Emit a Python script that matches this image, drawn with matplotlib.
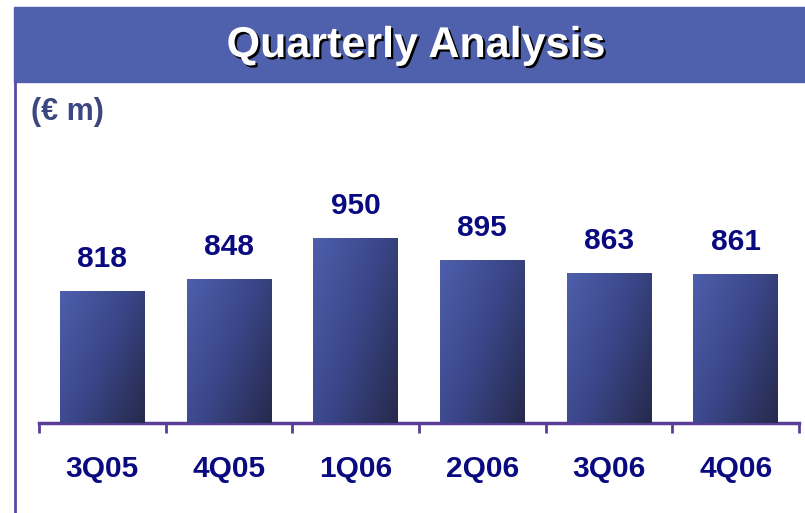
import numpy as np
import matplotlib
matplotlib.use("Agg")
import matplotlib.pyplot as plt
import matplotlib.patheffects as pe
from matplotlib.patches import Rectangle
from matplotlib.colors import LinearSegmentedColormap

quarters = ["3Q05", "4Q05", "1Q06", "2Q06", "3Q06", "4Q06"]
values = [818, 848, 950, 895, 863, 861]

navy = "#0a0a80"
purple = "#5a3d97"
banner = "#4f60ad"

plt.rcParams["font.family"] = ["Liberation Sans", "DejaVu Sans"]

fig = plt.figure(figsize=(8.05, 5.13), dpi=100)

# title banner + left border
fig.patches.append(Rectangle((14/805, 1-82/513), 1-14/805, 75/513,
                             transform=fig.transFigure, color=banner, zorder=0))
fig.lines.append(plt.Line2D([14.5/805, 14.5/805], [0, 1-82/513],
                            transform=fig.transFigure, color="#5a48a8", lw=2))
fig.text(0.516, 1-46/513, "Quarterly Analysis", ha="center", va="center",
         fontsize=31, fontweight="bold", color="white",
         path_effects=[pe.withSimplePatchShadow(offset=(1.6, -1.6), shadow_rgbFace="black", alpha=1)])
fig.text(31/805, 1-112/513, "(\u20ac m)", ha="left", va="center",
         fontsize=22, fontweight="bold", color="#3c4680")

ax = fig.add_axes([39/805, 1-423/513, 760/805, 283/513])
x = np.arange(len(quarters))
bars = ax.bar(x, values, width=0.67, color="#3e4c8e", zorder=2)
ax.set_xlim(-0.5, len(quarters) - 0.5)
ax.set_ylim(489, 1194)

# gradient fill, lighter top-left to dark bottom-right
cmap = LinearSegmentedColormap.from_list("g", ["#4d5eab", "#3a4688", "#262a4c"])
gx, gy = np.meshgrid(np.linspace(0, 1, 60), np.linspace(0, 1, 60))
grad = 0.6 * gx + 0.4 * gy
for b in bars:
    x0, y0 = b.get_x(), b.get_y()
    im = ax.imshow(grad, cmap=cmap, extent=[x0, x0 + b.get_width(), 489, y0 + b.get_height()],
                   origin="upper", aspect="auto", zorder=3)
    im.set_clip_path(b)
    ax.annotate(str(int(b.get_height())), (b.get_x() + b.get_width()/2, b.get_height()),
                xytext=(0, 23), textcoords="offset points", ha="center", va="center",
                fontsize=21.5, fontweight="bold", color=navy)

for s in ["top", "right", "left"]:
    ax.spines[s].set_visible(False)
ax.spines["bottom"].set_color(purple)
ax.spines["bottom"].set_linewidth(2.5)
ax.set_yticks([])
ax.set_xticks(np.arange(len(quarters) + 1) - 0.5)
ax.set_xticklabels([])
ax.tick_params(axis="x", which="major", length=7.5, width=2, color=purple, direction="out")
ax.set_xticks(x, minor=True)
ax.set_xticklabels(quarters, minor=True, fontsize=21.5, fontweight="bold", color=navy)
ax.tick_params(axis="x", which="minor", length=0, pad=23)

fig.savefig("out.png", dpi=100)
